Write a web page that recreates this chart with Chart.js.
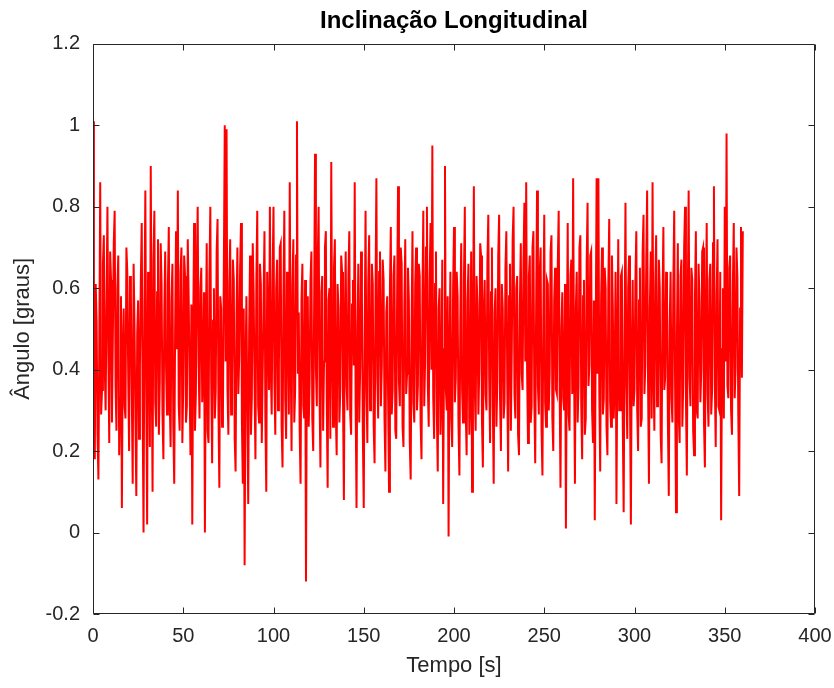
<!DOCTYPE html>
<html>
<head>
<meta charset="utf-8">
<title>Inclinação Longitudinal</title>
<script src="https://cdn.jsdelivr.net/npm/chart.js@4/dist/chart.umd.min.js"></script>
<style>
  html, body { margin: 0; padding: 0; background: #fff; }
  #chart { display: block; }
</style>
</head>
<body>
<canvas id="chart" width="834" height="688"></canvas>
<script>
/* ── Data (2 samples per second) ──────────────────────────── */
const angle = [
  1.01, 0.38, 0.18, 0.61, 0.52, 0.24, 0.13, 0.47, 0.86, 0.29, 0.35, 0.66, 0.73, 0.41, 0.30, 0.57, 0.80, 0.44, 0.22, 0.69,
  0.62, 0.27, 0.48, 0.71, 0.79, 0.36, 0.25, 0.60, 0.68, 0.19, 0.33, 0.58, 0.06, 0.45, 0.55, 0.31, 0.28, 0.70, 0.64, 0.39,
  0.20, 0.63, 0.58, 0.34, 0.12, 0.66, 0.51, 0.28, 0.09, 0.49, 0.57, 0.23, 0.41, 0.62, 0.76, 0.30, 0.00, 0.55, 0.84, 0.35,
  0.02, 0.64, 0.58, 0.21, 0.90, 0.43, 0.10, 0.67, 0.79, 0.32, 0.26, 0.59, 0.72, 0.24, 0.37, 0.71, 0.61, 0.29, 0.18, 0.54,
  0.69, 0.40, 0.29, 0.61, 0.75, 0.33, 0.21, 0.57, 0.66, 0.26, 0.12, 0.50, 0.74, 0.45, 0.84, 0.31, 0.25, 0.64, 0.70, 0.22,
  0.36, 0.68, 0.63, 0.27, 0.31, 0.72, 0.58, 0.38, 0.19, 0.56, 0.02, 0.48, 0.76, 0.25, 0.34, 0.65, 0.80, 0.42, 0.28, 0.60,
  0.65, 0.32, 0.40, 0.59, 0.00, 0.46, 0.71, 0.25, 0.22, 0.63, 0.80, 0.37, 0.17, 0.52, 0.60, 0.28, 0.35, 0.69, 0.77, 0.30,
  0.11, 0.58, 0.55, 0.26, 0.30, 0.66, 1.00, 0.42, 0.99, 0.35, 0.24, 0.61, 0.72, 0.29, 0.38, 0.67, 0.62, 0.23, 0.15, 0.53,
  0.70, 0.34, 0.43, 0.65, 0.76, 0.27, 0.12, 0.55, -0.08, 0.41, 0.58, 0.30, 0.07, 0.49, 0.68, 0.24, 0.33, 0.71, 0.59, 0.36,
  0.18, 0.62, 0.79, 0.31, 0.27, 0.66, 0.61, 0.22, 0.39, 0.57, 0.74, 0.28, 0.10, 0.64, 0.52, 0.35, 0.80, 0.40, 0.29, 0.63,
  0.80, 0.37, 0.24, 0.60, 0.67, 0.30, 0.41, 0.70, 0.71, 0.26, 0.16, 0.58, 0.79, 0.33, 0.23, 0.64, 0.55, 0.29, 0.86, 0.45,
  0.20, 0.61, 0.72, 0.27, 0.35, 0.68, 1.01, 0.39, 0.54, 0.25, 0.12, 0.57, 0.66, 0.31, 0.28, 0.62, -0.12, 0.44, 0.58, 0.26,
  0.37, 0.62, 0.69, 0.28, 0.20, 0.55, 0.93, 0.40, 0.31, 0.67, 0.80, 0.34, 0.16, 0.59, 0.63, 0.25, 0.42, 0.70, 0.74, 0.32,
  0.11, 0.57, 0.60, 0.23, 0.91, 0.46, 0.26, 0.65, 0.72, 0.30, 0.19, 0.61, 0.55, 0.27, 0.35, 0.68, 0.64, 0.33, 0.08, 0.52,
  0.69, 0.36, 0.30, 0.63, 0.74, 0.29, 0.24, 0.56, 0.62, 0.41, 0.86, 0.32, 0.06, 0.50, 0.66, 0.27, 0.40, 0.69, 0.57, 0.24,
  0.06, 0.48, 0.79, 0.35, 0.22, 0.62, 0.73, 0.30, 0.33, 0.66, 0.61, 0.26, 0.17, 0.58, 0.87, 0.38, 0.28, 0.64, 0.69, 0.31,
  0.41, 0.67, 0.62, 0.28, 0.15, 0.54, 0.58, 0.33, 0.10, 0.60, 0.75, 0.29, 0.35, 0.63, 0.68, 0.25, 0.23, 0.59, 0.85, 0.37,
  0.31, 0.70, 0.66, 0.26, 0.21, 0.56, 0.72, 0.34, 0.39, 0.65, 0.57, 0.22, 0.13, 0.51, 0.74, 0.32, 0.27, 0.61, 0.70, 0.30,
  0.36, 0.66, 0.63, 0.27, 0.18, 0.57, 0.79, 0.31, 0.42, 0.70, 0.80, 0.36, 0.26, 0.62, 0.76, 0.40, 0.95, 0.33, 0.23, 0.61,
  0.69, 0.29, 0.15, 0.55, 0.60, 0.24, 0.34, 0.67, 0.07, 0.45, 0.90, 0.35, 0.30, 0.58, -0.01, 0.43, 0.64, 0.28, 0.21, 0.60,
  0.75, 0.32, 0.38, 0.64, 0.58, 0.26, 0.14, 0.52, 0.71, 0.35, 0.27, 0.62, 0.80, 0.30, 0.19, 0.57, 0.66, 0.24, 0.33, 0.69,
  0.10, 0.47, 0.85, 0.36, 0.25, 0.63, 0.56, 0.29, 0.40, 0.71, 0.68, 0.27, 0.16, 0.55, 0.62, 0.34, 0.30, 0.66, 0.78, 0.38,
  0.22, 0.59, 0.70, 0.31, 0.12, 0.54, 0.60, 0.26, 0.37, 0.68, 0.78, 0.33, 0.20, 0.61, 0.55, 0.28, 0.32, 0.65, 0.74, 0.37,
  0.15, 0.58, 0.66, 0.25, 0.44, 0.72, 0.80, 0.34, 0.28, 0.60, 0.63, 0.24, 0.19, 0.56, 0.71, 0.39, 0.35, 0.67, 0.81, 0.42,
  0.86, 0.40, 0.22, 0.63, 0.68, 0.27, 0.31, 0.70, 0.74, 0.33, 0.17, 0.55, 0.84, 0.36, 0.29, 0.64, 0.70, 0.25, 0.14, 0.53,
  0.78, 0.32, 0.26, 0.62, 0.61, 0.30, 0.39, 0.69, 0.73, 0.28, 0.20, 0.57, 0.65, 0.35, 0.34, 0.66, 0.79, 0.37, 0.11, 0.50,
  0.59, 0.33, 0.30, 0.61, 0.01, 0.46, 0.76, 0.29, 0.25, 0.63, 0.67, 0.34, 0.87, 0.42, 0.12, 0.55, 0.64, 0.27, 0.36, 0.70,
  0.73, 0.31, 0.18, 0.58, 0.62, 0.24, 0.28, 0.66, 0.81, 0.36, 0.41, 0.68, 0.69, 0.30, 0.22, 0.57, 0.03, 0.48, 0.87, 0.39,
  0.87, 0.35, 0.15, 0.57, 0.70, 0.29, 0.33, 0.65, 0.60, 0.26, 0.19, 0.61, 0.77, 0.32, 0.26, 0.68, 0.55, 0.28, 0.38, 0.64,
  0.07, 0.44, 0.72, 0.30, 0.30, 0.63, 0.64, 0.27, 0.05, 0.49, 0.81, 0.36, 0.23, 0.60, 0.68, 0.33, 0.02, 0.46, 0.62, 0.31,
  0.35, 0.62, 0.74, 0.30, 0.20, 0.57, 0.65, 0.26, 0.28, 0.69, 0.78, 0.34, 0.41, 0.66, 0.84, 0.37, 0.12, 0.55, 0.69, 0.28,
  0.86, 0.40, 0.25, 0.61, 0.73, 0.31, 0.33, 0.67, 0.60, 0.24, 0.17, 0.56, 0.75, 0.35, 0.38, 0.64, 0.58, 0.27, 0.09, 0.51,
  0.64, 0.33, 0.27, 0.60, 0.79, 0.36, 0.05, 0.48, 0.71, 0.29, 0.22, 0.63, 0.67, 0.26, 0.36, 0.70, 0.80, 0.33, 0.14, 0.56,
  0.84, 0.38, 0.31, 0.65, 0.62, 0.25, 0.19, 0.58, 0.74, 0.30, 0.28, 0.66, 0.57, 0.32, 0.40, 0.69, 0.70, 0.27, 0.16, 0.54,
  0.76, 0.34, 0.26, 0.62, 0.66, 0.29, 0.35, 0.71, 0.85, 0.37, 0.21, 0.58, 0.72, 0.31, 0.30, 0.64, 0.03, 0.45, 0.60, 0.28,
  0.80, 0.42, 0.98, 0.36, 0.33, 0.65, 0.68, 0.30, 0.24, 0.61, 0.76, 0.33, 0.40, 0.70, 0.63, 0.29, 0.09, 0.55, 0.75, 0.38,
  0.74
];
const sampleStep = 0.5; // seconds between samples
const time = angle.map((_, i) => i * sampleStep);

const xTicks = [0, 50, 100, 150, 200, 250, 300, 350, 400];
const yTicks = [-0.2, 0, 0.2, 0.4, 0.6, 0.8, 1, 1.2];

const AXIS_COLOR = '#262626';
const FONT = 'Arial, "Liberation Sans", Helvetica, sans-serif';

/* ── MATLAB-style box with inward ticks ───────────────────── */
const boxTicks = {
  id: 'boxTicks',
  afterDatasetsDraw(chart) {
    const { ctx, chartArea: a, scales: { x, y } } = chart;
    const L = Math.round(a.left) + 0.5, R = Math.round(a.right) - 0.5;
    const T = Math.round(a.top) + 0.5, B = Math.round(a.bottom) - 0.5;
    const len = 6;
    ctx.save();
    ctx.strokeStyle = AXIS_COLOR;
    ctx.lineWidth = 1;
    ctx.beginPath();
    ctx.rect(L, T, R - L, B - T);
    xTicks.forEach(v => {
      const px = Math.round(x.getPixelForValue(v)) + 0.5;
      ctx.moveTo(px, B); ctx.lineTo(px, B - len);
      ctx.moveTo(px, T); ctx.lineTo(px, T + len);
    });
    yTicks.forEach(v => {
      const py = Math.round(y.getPixelForValue(v)) + 0.5;
      ctx.moveTo(L, py); ctx.lineTo(L + len, py);
      ctx.moveTo(R, py); ctx.lineTo(R - len, py);
    });
    ctx.stroke();
    ctx.restore();
  }
};

new Chart(document.getElementById('chart'), {
  type: 'line',
  data: {
    datasets: [{
      data: time.map((t, i) => ({ x: t, y: angle[i] })),
      borderColor: '#ff0000',
      borderWidth: 2,
      borderJoinStyle: 'miter',
      pointRadius: 0,
      tension: 0,
      fill: false
    }]
  },
  options: {
    responsive: false,
    animation: false,
    devicePixelRatio: 1,
    layout: { padding: { left: 0, right: 19, top: 0, bottom: 0 } },
    plugins: {
      legend: { display: false },
      tooltip: { enabled: false },
      title: {
        display: true,
        text: 'Inclinação Longitudinal',
        fullSize: false,
        color: '#000',
        font: { family: FONT, size: 24, weight: 'bold' },
        padding: { top: 7, bottom: 8 }
      }
    },
    scales: {
      x: {
        type: 'linear',
        min: 0,
        max: 400,
        afterBuildTicks: s => { s.ticks = xTicks.map(v => ({ value: v })); },
        afterFit: s => { s.height = 74; s.paddingLeft = 0; s.paddingRight = 0; },
        grid: { display: false, drawTicks: false },
        border: { display: false },
        ticks: {
          color: AXIS_COLOR,
          font: { family: FONT, size: 20 },
          padding: 10,
          maxRotation: 0,
          callback: v => String(v)
        },
        title: {
          display: true,
          text: 'Tempo [s]',
          color: AXIS_COLOR,
          font: { family: FONT, size: 22 },
          padding: { top: 4, bottom: 9 }
        }
      },
      y: {
        min: -0.2,
        max: 1.2,
        afterBuildTicks: s => { s.ticks = yTicks.map(v => ({ value: v })); },
        afterFit: s => { s.width = 93; s.paddingTop = 0; s.paddingBottom = 0; },
        grid: { display: false, drawTicks: false },
        border: { display: false },
        ticks: {
          color: AXIS_COLOR,
          font: { family: FONT, size: 20 },
          padding: 13,
          callback: v => String(Number(v.toFixed(1)))
        },
        title: {
          display: true,
          text: 'Ângulo [graus]',
          color: AXIS_COLOR,
          font: { family: FONT, size: 22 },
          padding: { top: 10, bottom: 4 }
        }
      }
    }
  },
  plugins: [boxTicks]
});
</script>
</body>
</html>
